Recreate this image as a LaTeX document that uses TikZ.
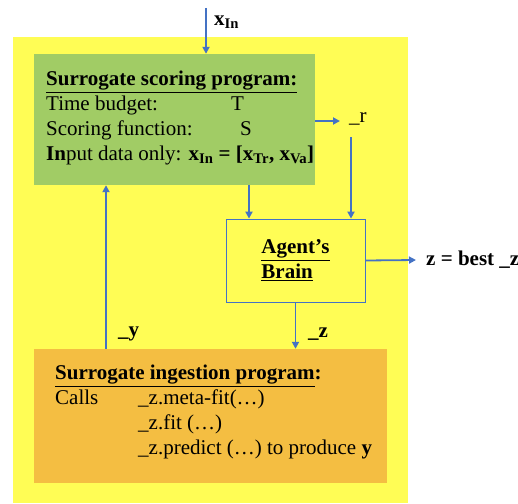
\documentclass[tikz,border=0pt]{standalone}
\usepackage{fontspec}
\setmainfont{Liberation Serif}
\usepackage{xcolor}
\usetikzlibrary{arrows.meta}

\definecolor{panelyellow}{RGB}{255,253,85}
\definecolor{scoregreen}{RGB}{161,204,101}
\definecolor{ingestorange}{RGB}{244,190,66}
\definecolor{linkblue}{RGB}{68,114,196}

\begin{document}
\begin{tikzpicture}[
    x=1pt, y=-1pt,
    every node/.style={font=\fontsize{21}{25}\selectfont, inner sep=0pt},
    panel/.style={rectangle, fill=panelyellow, minimum width=395pt, minimum height=466pt},
    scorebox/.style={rectangle, fill=scoregreen, minimum width=281pt, minimum height=131pt},
    brainbox/.style={
        rectangle, draw=linkblue, line width=0.8pt, fill=panelyellow,
        align=left, minimum width=139pt, minimum height=83pt
    },
    ingestbox/.style={rectangle, fill=ingestorange, minimum width=353pt, minimum height=134pt},
    boxtext/.style={anchor=north west, align=left},
    lbl/.style={anchor=west},
    arrow/.style={-{Triangle[length=7pt,width=7pt]}, draw=linkblue, line width=1.8pt}
]
\useasboundingbox (0,0) rectangle (518,503);

% Background
\node[panel] (panel) at (210.5,270) {};

% Boxes
\node[scorebox] (scoring) at (174.5,119.5) {};
\node[boxtext] (scoringtext) at (46,71) {
    \textbf{\underline{Surrogate scoring program:}}\\
    \makebox[185pt][l]{Time budget:}T\\
    \makebox[194pt][l]{Scoring function:}S\\
    \mbox{\textbf{In}put data only: \textbf{x\textsubscript{In} = [x\textsubscript{Tr}, x\textsubscript{Va}]}}
};
\node[brainbox] (brain) at (295.5,260.5) {
    \textbf{\underline{Agent’s}}\\
    \textbf{\underline{Brain}}
};
\node[ingestbox] (ingest) at (210.5,416) {};
\node[boxtext] (ingesttext) at (55,365) {
    \textbf{\underline{Surrogate ingestion program}:}\\
    \makebox[83pt][l]{Calls}\_z.meta-fit(…)\\
    \hspace*{83pt}\_z.fit (…)\\
    \mbox{\hspace*{83pt}\_z.predict (…) to produce \textbf{y}}
};

% Free ends
\coordinate (xin) at (206,8);
\coordinate (rout) at (340,121);
\coordinate (rtop) at (351,137);
\coordinate (zout) at (416,260);

% Labels
\node[lbl] (xinlabel) at (214,22) {\textbf{x\textsubscript{In}}};
\node[lbl] (rlabel) at (349,119) {\_r};
\node[lbl] (bestlabel) at (426,260) {\textbf{z = best \_z}};
\node[lbl] (zlabel) at (308,334) {\textbf{\_z}};
\node[lbl] (ylabel) at (118,334) {\textbf{\_y}};

% Arrows
\draw[arrow] (xin) -- (xin |- scoring.north);
\draw[arrow] (scoring.east |- rout) -- (rout);
\draw[arrow] (rtop) -- (rtop |- brain.north);
\draw[arrow] (scoring.south -| 249,0) -- (brain.north -| 249,0);
\draw[arrow] (brain.east) -- (zout);
\draw[arrow] (brain.south) -- (brain.south |- ingest.north);
\draw[arrow] (ingest.north -| 106,0) -- (scoring.south -| 106,0);

\end{tikzpicture}
\end{document}
